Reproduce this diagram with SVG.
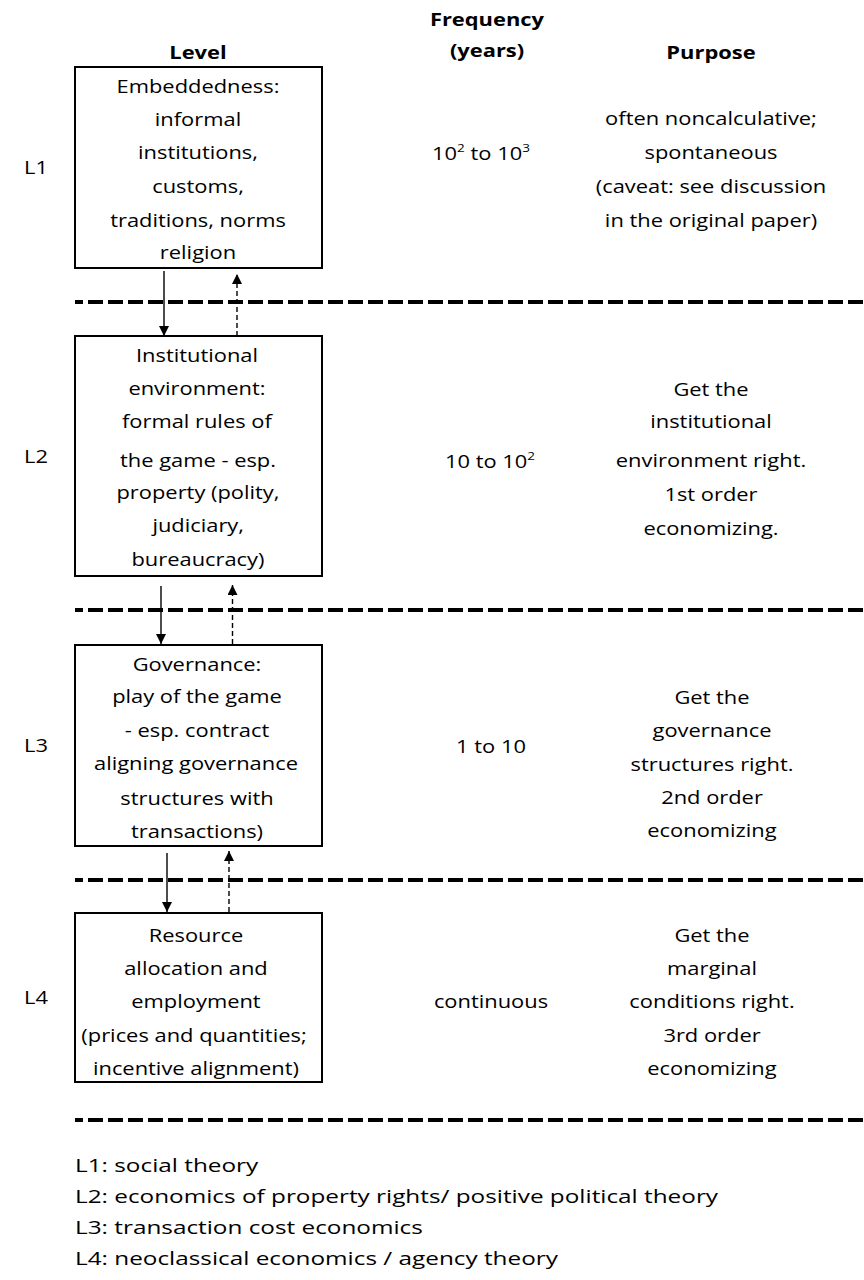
<svg xmlns="http://www.w3.org/2000/svg" width="864" height="1280" viewBox="0 0 864 1280">
  <style>
    .t { font-family: "Open Sans", "Liberation Sans", sans-serif; font-size: 17.8px; fill: #000;
         transform-box: fill-box; transform: scaleX(1.23); }
    .c { text-anchor: middle; transform-origin: center; }
    .s { text-anchor: start; transform-origin: left center; }
    .b { font-weight: 700; }
    .lg { font-size: 19px; transform: scaleX(1.28); }
    .box { fill: #fff; stroke: #000; stroke-width: 2; }
    .sep { fill: none; stroke: #000; stroke-width: 4; stroke-dasharray: 15 5; stroke-dashoffset: 7; }
    .down { fill: none; stroke: #000; stroke-width: 1.4; }
    .up { fill: none; stroke: #000; stroke-width: 1.4; stroke-dasharray: 5 3; }
    .sup { font-size: 11px; }
  </style>
  <defs>
    <marker id="head" markerUnits="userSpaceOnUse" markerWidth="10" markerHeight="10" refX="10" refY="5" orient="auto">
      <path d="M0,0 L10,5 L0,10 Z" fill="#000"/>
    </marker>
  </defs>

  <rect width="864" height="1280" fill="#fff"/>

  <!-- column headers -->
  <g id="headers">
    <text class="t c b" x="198" y="59">Level</text>
    <text class="t c b" x="487" y="26">Frequency</text>
    <text class="t c b" x="487" y="57">(years)</text>
    <text class="t c b" x="711" y="59">Purpose</text>
  </g>

  <!-- level separators -->
  <g id="separators">
    <line class="sep" x1="75" y1="302" x2="864" y2="302"/>
    <line class="sep" x1="75" y1="610" x2="864" y2="610"/>
    <line class="sep" x1="75" y1="880" x2="864" y2="880"/>
    <line class="sep" x1="75" y1="1120" x2="864" y2="1120"/>
  </g>

  <!-- L1 -->
  <g id="level1">
    <text class="t s" x="24" y="174">L1</text>
    <rect class="box" x="75" y="67" width="247" height="201"/>
    <text class="t c" x="198" y="93">Embeddedness:</text>
    <text class="t c" x="198" y="126">informal</text>
    <text class="t c" x="198" y="159">institutions,</text>
    <text class="t c" x="198" y="193">customs,</text>
    <text class="t c" x="198" y="227">traditions, norms</text>
    <text class="t c" x="198" y="259">religion</text>
    <text class="t c" x="481" y="160">10<tspan class="sup" dy="-8">2</tspan><tspan dy="8"> to 10</tspan><tspan class="sup" dy="-8">3</tspan></text>
    <text class="t c" x="711" y="125">often noncalculative;</text>
    <text class="t c" x="711" y="159">spontaneous</text>
    <text class="t c" x="711" y="193">(caveat: see discussion</text>
    <text class="t c" x="711" y="227">in the original paper)</text>
  </g>

  <!-- L2 -->
  <g id="level2">
    <text class="t s" x="24" y="463">L2</text>
    <rect class="box" x="75" y="336" width="247" height="240"/>
    <text class="t c" x="197" y="362">Institutional</text>
    <text class="t c" x="197" y="395">environment:</text>
    <text class="t c" x="197" y="428">formal rules of</text>
    <text class="t c" x="198" y="467">the game - esp.</text>
    <text class="t c" x="198" y="499">property (polity,</text>
    <text class="t c" x="198" y="532">judiciary,</text>
    <text class="t c" x="198" y="566">bureaucracy)</text>
    <text class="t c" x="490" y="468">10 to 10<tspan class="sup" dy="-8">2</tspan></text>
    <text class="t c" x="711" y="396">Get the</text>
    <text class="t c" x="711" y="428">institutional</text>
    <text class="t c" x="711" y="467">environment right.</text>
    <text class="t c" x="711" y="501">1st order</text>
    <text class="t c" x="711" y="535">economizing.</text>
  </g>

  <!-- L3 -->
  <g id="level3">
    <text class="t s" x="24" y="752">L3</text>
    <rect class="box" x="75" y="645" width="247" height="201"/>
    <text class="t c" x="197" y="671">Governance:</text>
    <text class="t c" x="197" y="703">play of the game</text>
    <text class="t c" x="197" y="737">- esp. contract</text>
    <text class="t c" x="196" y="770">aligning governance</text>
    <text class="t c" x="197" y="805">structures with</text>
    <text class="t c" x="197" y="838">transactions)</text>
    <text class="t c" x="491" y="753">1 to 10</text>
    <text class="t c" x="712" y="704">Get the</text>
    <text class="t c" x="712" y="737">governance</text>
    <text class="t c" x="712" y="771">structures right.</text>
    <text class="t c" x="712" y="804">2nd order</text>
    <text class="t c" x="712" y="837">economizing</text>
  </g>

  <!-- L4 -->
  <g id="level4">
    <text class="t s" x="24" y="1004">L4</text>
    <rect class="box" x="75" y="913" width="247" height="169"/>
    <text class="t c" x="196" y="942">Resource</text>
    <text class="t c" x="196" y="975">allocation and</text>
    <text class="t c" x="196" y="1008">employment</text>
    <text class="t c" x="194" y="1042">(prices and quantities;</text>
    <text class="t c" x="196" y="1075">incentive alignment)</text>
    <text class="t c" x="491" y="1008">continuous</text>
    <text class="t c" x="712" y="942">Get the</text>
    <text class="t c" x="712" y="975">marginal</text>
    <text class="t c" x="712" y="1008">conditions right.</text>
    <text class="t c" x="712" y="1042">3rd order</text>
    <text class="t c" x="712" y="1075">economizing</text>
  </g>

  <!-- theories per level -->
  <g id="legend">
    <text class="t s lg" x="75" y="1172">L1: social theory</text>
    <text class="t s lg" x="75" y="1203">L2: economics of property rights/ positive political theory</text>
    <text class="t s lg" x="75" y="1234">L3: transaction cost economics</text>
    <text class="t s lg" x="75" y="1265">L4: neoclassical economics / agency theory</text>
  </g>

  <!-- influence arrows between levels -->
  <g id="connectors">
    <line class="down" x1="164" y1="271" x2="164" y2="336" marker-end="url(#head)"/>
    <line class="up" x1="237" y1="336" x2="237" y2="274" marker-end="url(#head)"/>
    <line class="down" x1="161" y1="586" x2="161" y2="644" marker-end="url(#head)"/>
    <line class="up" x1="232.5" y1="644" x2="232.5" y2="585" marker-end="url(#head)"/>
    <line class="down" x1="167" y1="853" x2="167" y2="912" marker-end="url(#head)"/>
    <line class="up" x1="229" y1="912" x2="229" y2="851" marker-end="url(#head)"/>
  </g>
</svg>
